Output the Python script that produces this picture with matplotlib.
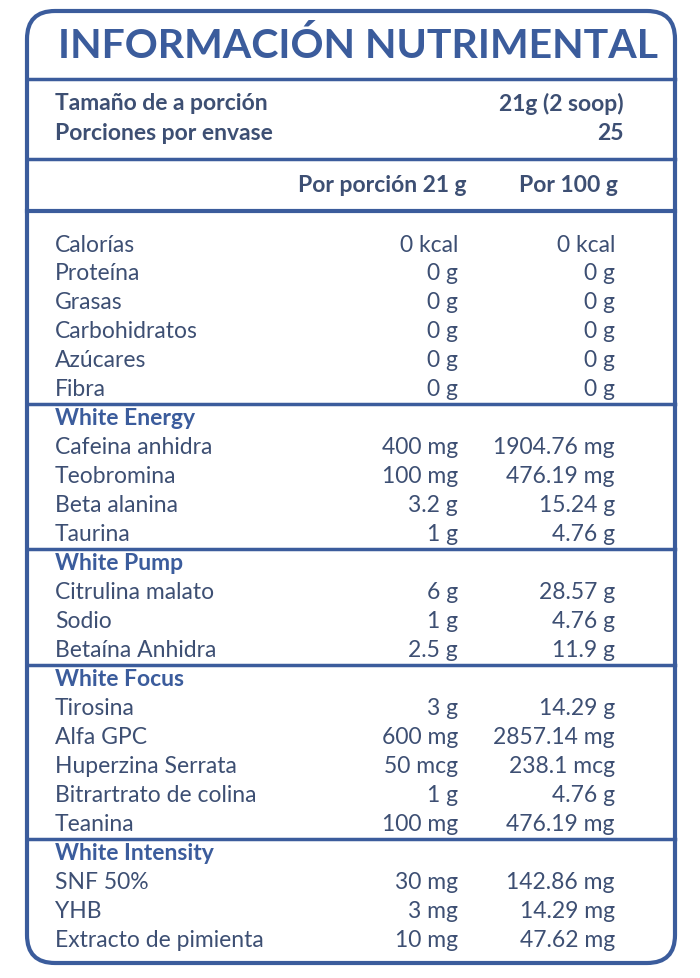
import matplotlib
matplotlib.use("Agg")
import matplotlib.pyplot as plt
from matplotlib.patches import FancyBboxPatch

title = "INFORMACIÓN NUTRIMENTAL"
serving = [("Tamaño de a porción", "21g (2 soop)"), ("Porciones por envase", "25")]
col_headers = ["Por porción 21 g", "Por 100 g"]
sections = [
    (None, ["Calorías", "Proteína", "Grasas", "Carbohidratos", "Azúcares", "Fibra"],
     ["0 kcal", "0 g", "0 g", "0 g", "0 g", "0 g"],
     ["0 kcal", "0 g", "0 g", "0 g", "0 g", "0 g"]),
    ("White Energy", ["Cafeina anhidra", "Teobromina", "Beta alanina", "Taurina"],
     ["400 mg", "100 mg", "3.2 g", "1 g"],
     ["1904.76 mg", "476.19 mg", "15.24 g", "4.76 g"]),
    ("White Pump", ["Citrulina malato", "Sodio", "Betaína Anhidra"],
     ["6 g", "1 g", "2.5 g"],
     ["28.57 g", "4.76 g", "11.9 g"]),
    ("White Focus", ["Tirosina", "Alfa GPC", "Huperzina Serrata", "Bitrartrato de colina", "Teanina"],
     ["3 g", "600 mg", "50 mcg", "1 g", "100 mg"],
     ["14.29 g", "2857.14 mg", "238.1 mcg", "4.76 g", "476.19 mg"]),
    ("White Intensity", ["SNF 50%", "YHB", "Extracto de pimienta"],
     ["30 mg", "3 mg", "10 mg"],
     ["142.86 mg", "14.29 mg", "47.62 mg"]),
]

blue = "#3b5c9c"
txt = "#3d4f73"
fs = 16.5
fb = 16.5
fig = plt.figure(figsize=(7, 9.79), dpi=100)
ax = fig.add_axes([0, 0, 1, 1])
ax.set_xlim(0, 700); ax.set_ylim(979, 0); ax.axis("off")
ax.add_patch(FancyBboxPatch((27, 12), 648, 952, boxstyle="round,pad=0,rounding_size=28",
                            fc="white", ec=blue, lw=3))
ax.text(358, 46, title, ha="center", va="center", fontsize=29.5, fontweight="bold", color=blue, family="Lato")
for y, lw in [(80, 2.5), (160, 2.5), (212, 3)]:
    ax.plot([27, 675], [y, y], color=blue, lw=lw)
for i, (k, v) in enumerate(serving):
    y = 104 + 29 * i
    ax.text(55, y, k, ha="left", va="center", fontsize=fb, fontweight="bold", color=txt, family="Lato")
    ax.text(624, y, v, ha="right", va="center", fontsize=fb, fontweight="bold", color=txt, family="Lato")
ax.text(466, 186, col_headers[0], ha="right", va="center", fontsize=fb, fontweight="bold", color=txt, family="Lato")
ax.text(618, 186, col_headers[1], ha="right", va="center", fontsize=fb, fontweight="bold", color=txt, family="Lato")

y = 245
step = 29
for name, rows, a, b in sections:
    if name is not None:
        ax.plot([27, 675], [y - step / 2, y - step / 2], color=blue, lw=2.5)
        ax.text(55, y, name, ha="left", va="center", fontsize=fb, fontweight="bold", color=blue, family="Lato")
        y += step
    for r, va_, vb in zip(rows, a, b):
        ax.text(55, y, r, ha="left", va="center", fontsize=fs, color=txt, family="Lato")
        ax.text(458, y, va_, ha="right", va="center", fontsize=fs, color=txt, family="Lato")
        ax.text(615, y, vb, ha="right", va="center", fontsize=fs, color=txt, family="Lato")
        y += step
fig.savefig("out.png", dpi=100)
